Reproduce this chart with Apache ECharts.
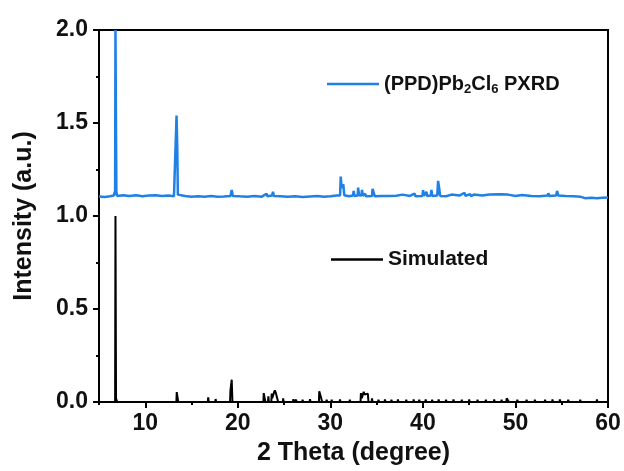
<!DOCTYPE html>
<html>
<head>
<meta charset="utf-8">
<script src="https://cdn.jsdelivr.net/npm/echarts@6/dist/echarts.min.js"></script>
<style>
  html, body { margin: 0; padding: 0; background: #fff; }
  #chart { width: 624px; height: 471px; }
</style>
</head>
<body>
<div id="chart"></div>
<script>
// measured PXRD, offset by ~1.1
const pxrdTheta = [
  5.00, 5.60, 6.20, 6.60, 6.70, 6.74, 6.78, 6.84, 6.88, 6.95, 7.60, 8.30, 9.00, 9.70,
  10.40, 11.10, 11.80, 12.50, 13.10, 13.30, 13.38, 13.46, 13.52, 13.60, 14.30, 15.00,
  15.70, 16.40, 17.10, 17.80, 18.50, 19.20, 19.34, 19.46, 20.20, 21.00, 21.80, 22.60,
  23.10, 23.20, 23.70, 23.80, 23.90, 24.60, 25.40, 26.20, 27.00, 27.80, 28.60, 29.30,
  30.00, 30.70, 31.05, 31.12, 31.22, 31.40, 31.50, 32.00, 32.45, 32.52, 32.60, 32.95,
  33.00, 33.10, 33.35, 33.42, 33.50, 33.75, 33.85, 34.50, 34.56, 34.72, 34.80, 35.50,
  36.30, 37.10, 37.80, 37.90, 38.60, 39.10, 39.20, 39.95, 40.02, 40.10, 40.38, 40.46,
  40.85, 40.92, 41.00, 41.55, 41.64, 41.76, 41.86, 42.50, 43.10, 43.20, 43.95, 44.02,
  44.50, 44.60, 45.10, 45.20, 45.50, 45.60, 46.40, 47.20, 47.30, 48.30, 48.40, 49.20,
  49.30, 50.00, 50.70, 50.80, 51.70, 52.60, 53.50, 53.55, 53.65, 54.40, 54.50, 54.62,
  55.40, 56.30, 57.00, 57.50, 58.20, 58.80, 59.40, 60.00
];
const pxrdIntensity = [
  1.105, 1.102, 1.106, 1.110, 1.130, 1.112, 2.000, 1.440, 1.130, 1.108, 1.112, 1.108, 1.111, 1.106,
  1.110, 1.112, 1.107, 1.110, 1.106, 1.112, 1.540, 1.360, 1.115, 1.106, 1.108, 1.103,
  1.106, 1.104, 1.107, 1.103, 1.105, 1.108, 1.140, 1.108, 1.106, 1.104, 1.107, 1.104,
  1.120, 1.106, 1.110, 1.130, 1.108, 1.106, 1.103, 1.106, 1.102, 1.105, 1.108, 1.103,
  1.106, 1.110, 1.110, 1.212, 1.150, 1.170, 1.112, 1.106, 1.110, 1.135, 1.108, 1.110,
  1.153, 1.112, 1.110, 1.140, 1.108, 1.120, 1.106, 1.108, 1.146, 1.140, 1.106, 1.108,
  1.107, 1.109, 1.115, 1.107, 1.108, 1.120, 1.106, 1.108, 1.139, 1.108, 1.130, 1.108,
  1.110, 1.140, 1.108, 1.110, 1.189, 1.150, 1.108, 1.106, 1.115, 1.106, 1.110, 1.120,
  1.125, 1.108, 1.118, 1.106, 1.115, 1.108, 1.110, 1.115, 1.106, 1.117, 1.107, 1.115,
  1.106, 1.108, 1.113, 1.106, 1.108, 1.106, 1.110, 1.123, 1.108, 1.110, 1.135, 1.110,
  1.107, 1.106, 1.104, 1.096, 1.098, 1.095, 1.098, 1.100
];

// simulated pattern
const simTheta = [
  5.00, 6.74, 6.78, 6.84, 6.90, 6.96, 13.36, 13.40, 13.52, 13.56, 16.76, 16.80, 16.86,
  17.56, 17.60, 17.66, 19.16, 19.20, 19.30, 19.34, 19.42, 22.76, 22.80, 22.92, 22.98,
  23.26, 23.30, 23.36, 23.62, 23.66, 23.72, 23.90, 24.00, 24.10, 24.30, 24.36, 24.86,
  24.90, 24.96, 25.96, 26.00, 26.06, 26.26, 26.30, 26.36, 26.96, 27.00, 27.06, 27.76,
  27.80, 27.86, 28.76, 28.80, 28.90, 29.06, 29.12, 29.56, 29.60, 29.66, 30.10, 30.14,
  30.20, 31.00, 31.04, 31.10, 32.06, 32.10, 32.16, 33.26, 33.30, 33.40, 33.60, 33.70,
  33.90, 34.05, 34.12, 34.46, 34.50, 34.56, 35.16, 35.20, 35.26, 35.86, 35.90, 35.96,
  36.56, 36.60, 36.66, 37.26, 37.30, 37.36, 38.16, 38.20, 38.26, 38.96, 39.00, 39.06,
  39.56, 39.60, 39.66, 40.26, 40.30, 40.36, 40.96, 41.00, 41.06, 41.66, 41.70, 41.76,
  42.46, 42.50, 42.56, 43.26, 43.30, 43.36, 44.16, 44.20, 44.26, 44.96, 45.00, 45.06,
  45.86, 45.90, 45.96, 46.76, 46.80, 46.86, 47.66, 47.70, 47.76, 48.46, 48.50, 48.56,
  49.00, 49.05, 49.15, 49.25, 49.30, 50.16, 50.20, 50.26, 51.16, 51.20, 51.26, 52.06,
  52.10, 52.16, 53.16, 53.20, 53.26, 53.96, 54.00, 54.06, 54.76, 54.80, 54.86, 55.66,
  55.70, 55.76, 56.96, 57.00, 57.06, 58.76, 58.80, 58.86, 60.00
];
const simIntensity = [
  0, 0, 1.000, 0.020, 0.025, 0, 0, 0.053, 0.050, 0, 0, 0.025, 0,
  0, 0.016, 0, 0, 0.060, 0.060, 0.120, 0, 0, 0.048, 0.040, 0,
  0, 0.030, 0, 0, 0.045, 0.020, 0.050, 0.063, 0.050, 0.040, 0, 0,
  0.020, 0, 0, 0.015, 0, 0, 0.012, 0, 0, 0.012, 0, 0,
  0.015, 0, 0, 0.057, 0.040, 0.030, 0, 0, 0.012, 0, 0, 0.012,
  0, 0, 0.014, 0, 0, 0.012, 0, 0, 0.048, 0.020, 0.055, 0.040,
  0.045, 0.045, 0, 0, 0.020, 0, 0, 0.012, 0, 0, 0.014, 0,
  0, 0.012, 0, 0, 0.014, 0, 0, 0.012, 0, 0, 0.014, 0,
  0, 0.012, 0, 0, 0.014, 0, 0, 0.012, 0, 0, 0.014, 0,
  0, 0.012, 0, 0, 0.014, 0, 0, 0.012, 0, 0, 0.014, 0,
  0, 0.012, 0, 0, 0.012, 0, 0, 0.014, 0, 0, 0.012, 0,
  0, 0.020, 0.010, 0.016, 0, 0, 0.012, 0, 0, 0.012, 0, 0,
  0.012, 0, 0, 0.012, 0, 0, 0.014, 0, 0, 0.014, 0, 0,
  0.012, 0, 0, 0.012, 0, 0, 0.014, 0, 0
];

const xTickValues = [10, 20, 30, 40, 50, 60];
const xMinorTickValues = [5, 15, 25, 35, 45, 55];

const pxrdData = pxrdTheta.map((t, i) => [t, pxrdIntensity[i]]);
const simData = simTheta.map((t, i) => [t, simIntensity[i]]);

const chart = echarts.init(document.getElementById("chart"));
const font = "Liberation Sans, Arial, sans-serif";

const option = {
  animation: false,
  grid: {
    left: 99, right: 16, top: 30, bottom: 67,
    show: true, borderColor: "#000", borderWidth: 2
  },
  legend: [
    {
      data: ["pxrd"],
      left: 322, top: 69,
      icon: "rect", itemWidth: 52, itemHeight: 2.5,
      formatter: () => "(PPD)Pb{s|2}Cl{s|6} PXRD",
      textStyle: {
        fontFamily: font, fontSize: 20, fontWeight: "bold", color: "#111",
        rich: { s: { fontFamily: font, fontSize: 13, fontWeight: "bold", color: "#111", padding: [10, 0, 0, 0] } }
      }
    },
    {
      data: ["Simulated"],
      left: 326, top: 244,
      icon: "rect", itemWidth: 52, itemHeight: 2.5,
      textStyle: { fontFamily: font, fontSize: 21, fontWeight: "bold", color: "#111" }
    }
  ],
  xAxis: [
    {
      type: "value", min: 5, max: 60,
      name: "2 Theta (degree)", nameLocation: "middle", nameGap: 39,
      nameTextStyle: { fontFamily: font, fontSize: 25, fontWeight: "bold", color: "#111" },
      axisLine: { lineStyle: { color: "#000", width: 2 } },
      axisTick: { customValues: xTickValues, length: 6, lineStyle: { color: "#000", width: 2 } },
      axisLabel: {
        customValues: xTickValues, margin: 10,
        fontFamily: font, fontSize: 23, fontWeight: "bold", color: "#111"
      },
      splitLine: { show: false }
    },
    {
      type: "value", min: 5, max: 60, position: "bottom",
      axisLine: { show: false },
      axisTick: { customValues: xMinorTickValues, length: 3, lineStyle: { color: "#000", width: 2 } },
      axisLabel: { show: false },
      splitLine: { show: false }
    }
  ],
  yAxis: {
    type: "value", min: 0, max: 2, interval: 0.5,
    name: "Intensity (a.u.)", nameLocation: "middle", nameGap: 62,
    nameTextStyle: { fontFamily: font, fontSize: 25, fontWeight: "bold", color: "#111" },
    axisLine: { show: true, lineStyle: { color: "#000", width: 2 } },
    axisTick: { show: true, length: 6, lineStyle: { color: "#000", width: 2 } },
    minorTick: { show: true, splitNumber: 2, length: 3, lineStyle: { color: "#000", width: 2 } },
    axisLabel: {
      margin: 11, formatter: (v) => v.toFixed(1),
      fontFamily: font, fontSize: 23, fontWeight: "bold", color: "#111"
    },
    splitLine: { show: false }
  },
  series: [
    {
      name: "Simulated", type: "line", showSymbol: false, symbol: "none",
      data: simData,
      lineStyle: { color: "#000", width: 2 }, itemStyle: { color: "#000" }
    },
    {
      name: "pxrd", type: "line", showSymbol: false, symbol: "none",
      data: pxrdData,
      lineStyle: { color: "#1f80e6", width: 2.5 }, itemStyle: { color: "#1f80e6" }
    }
  ]
};

chart.setOption(option);
</script>
</body>
</html>
